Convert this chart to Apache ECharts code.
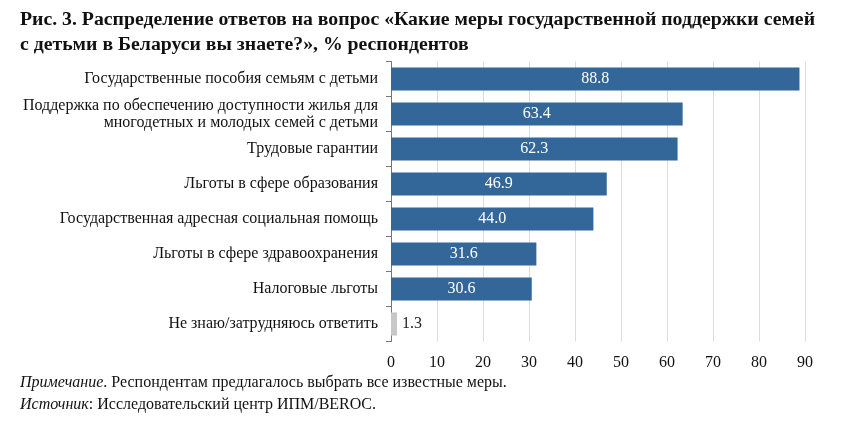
<!DOCTYPE html>
<html><head><meta charset="utf-8">
<script src="https://cdn.jsdelivr.net/npm/echarts@6/dist/echarts.min.js"></script>
<style>html,body{margin:0;padding:0;background:#fff}#c{width:856px;height:432px}</style>
</head><body><div id="c"></div>
<script>
var categories = [
  'Государственные пособия семьям с детьми',
  'Поддержка по обеспечению доступности жилья для\nмногодетных и молодых семей с детьми',
  'Трудовые гарантии',
  'Льготы в сфере образования',
  'Государственная адресная социальная помощь',
  'Льготы в сфере здравоохранения',
  'Налоговые льготы',
  'Не знаю/затрудняюсь ответить'
];
var values = [88.8, 63.4, 62.3, 46.9, 44.0, 31.6, 30.6, 1.3];
var xTicks = [0, 10, 20, 30, 40, 50, 60, 70, 80, 90];

var FONT = 'Liberation Serif';
var chart = echarts.init(document.getElementById('c'));
var data = values.map(function (v, i) {
  var last = i === values.length - 1;
  return {
    value: v,
    itemStyle: { color: last ? '#c8c8c8' : '#336699' },
    label: last ? { position: 'right', color: '#222' } : { position: 'inside', color: '#fff' }
  };
});
chart.setOption({
  animation: false,
  title: {
    text: 'Рис. 3. Распределение ответов на вопрос «Какие меры государственной поддержки семей\nс детьми в Беларуси вы знаете?», % респондентов',
    left: 15, top: 2,
    textStyle: { fontFamily: FONT, fontWeight: 'bold', fontSize: 19.75, lineHeight: 25, color: '#111' }
  },
  graphic: [{
    type: 'text', left: 20, top: 375,
    style: {
      text: '{i|Примечание}{n|. Респондентам предлагалось выбрать все известные меры.}\n{i|Источник}{n|: Исследовательский центр ИПМ/BEROC.}',
      rich: {
        i: { fontFamily: FONT, fontStyle: 'italic', fontSize: 16, lineHeight: 22, fill: '#111' },
        n: { fontFamily: FONT, fontSize: 16, lineHeight: 22, fill: '#111' }
      }
    }
  }],
  grid: { left: 391, right: 51, top: 61.5, bottom: 90.5, containLabel: false },
  xAxis: {
    type: 'value', min: 0, max: 90, interval: 10,
    axisLine: { show: false }, axisTick: { show: false },
    splitLine: { show: true, lineStyle: { color: '#dcdcdc', width: 1 } },
    axisLabel: {
      fontFamily: FONT, fontSize: 16, color: '#111', margin: 13,
      formatter: function (v) { return xTicks.indexOf(v) >= 0 ? String(v) : ''; }
    }
  },
  yAxis: {
    type: 'category', inverse: true, data: categories,
    axisLine: { show: true, lineStyle: { color: '#777' } },
    axisTick: { show: true, length: 5, lineStyle: { color: '#777' } },
    axisLabel: { fontFamily: FONT, fontSize: 16, lineHeight: 17, color: '#111', margin: 13, align: 'right', padding: [3, 0, 0, 0] }
  },
  series: [{
    type: 'bar', data: data, barCategoryGap: '34%',
    label: { show: true, fontFamily: FONT, fontSize: 16, formatter: function (p) { return p.value.toFixed(1); } }
  }]
});
</script></body></html>
